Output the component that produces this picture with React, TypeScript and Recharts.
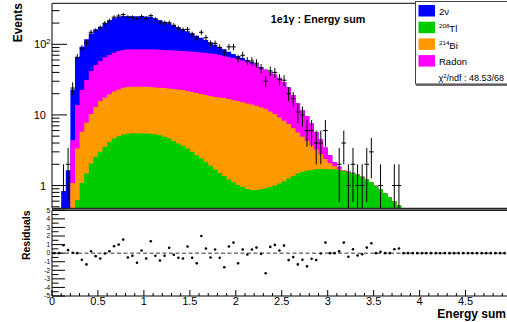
import React from 'react';
import {
  ComposedChart,
  Area,
  Scatter,
  ErrorBar,
  XAxis,
  YAxis,
  ReferenceArea,
  ReferenceLine,
} from 'recharts';

const FONT = '"Liberation Sans", Arial, Helvetica, sans-serif';

// 100 bins of 0.05 from 0 to 5
const BIN_WIDTH = 0.05;
const X_MAX = 5;

// stacked MC components, per bin
const twoNu = [
  0, 0, 0.84, 1.65, 18.6, 52.9, 70, 86.8, 101, 112,
  120, 133, 145, 158, 166, 169, 166, 165, 164, 163,
  162, 161, 150, 137, 126, 116, 104, 93.2, 82.6, 73.4,
  64.5, 54.2, 47.5, 39.7, 32.9, 25.9, 21.1, 16.8, 12.5, 8.9,
  6.8, 5, 3.6, 2.5, 1.7, 1.1, 0.7, 0.45, 0.3, 0.2,
  0.12, 0.07, 0.04, 0, 0, 0, 0, 0, 0, 0,
  0, 0, 0, 0, 0, 0, 0, 0, 0, 0,
  0, 0, 0, 0, 0, 0, 0, 0, 0, 0,
  0, 0, 0, 0, 0, 0, 0, 0, 0, 0,
  0, 0, 0, 0, 0, 0, 0, 0, 0, 0,
];

const tl208 = [
  0, 0, 0, 0, 0, 0.62, 1.09, 1.48, 2.05, 2.55,
  3, 3.53, 4.15, 4.64, 5, 5.29, 5.42, 5.5, 5.52, 5.5,
  5.46, 5.42, 5.32, 5.17, 4.89, 4.64, 4.29, 3.94, 3.65, 3.35,
  3, 2.69, 2.41, 2.16, 1.9, 1.69, 1.51, 1.36, 1.22, 1.11,
  1.02, 0.955, 0.895, 0.866, 0.866, 0.887, 0.916, 0.955, 1, 1.07,
  1.15, 1.26, 1.36, 1.48, 1.56, 1.63, 1.66, 1.7, 1.72, 1.72,
  1.7, 1.69, 1.65, 1.61, 1.55, 1.49, 1.42, 1.33, 1.23, 1.11,
  0.99, 0.89, 0.78, 0.68, 0.6, 0.52, 0, 0, 0, 0,
  0, 0, 0, 0, 0, 0, 0, 0, 0, 0,
  0, 0, 0, 0, 0, 0, 0, 0, 0, 0,
];

const bi214 = [
  0, 0, 0, 0, 1.09, 2.73, 4.67, 6.25, 8.25, 10.45,
  12.7, 14.17, 15.55, 16.86, 18, 18.91, 19.38, 19.5, 19.48, 19.5,
  19.54, 19.38, 19.18, 19.03, 19.11, 18.96, 18.91, 18.96, 18.85, 18.45,
  18.1, 17.71, 17.29, 16.94, 16.6, 16.21, 16.09, 15.94, 15.58, 15.09,
  14.68, 14.15, 13.6, 13.13, 12.63, 12.01, 11.28, 10.25, 9.3, 8.15,
  7.1, 6.15, 5.14, 4.17, 3.33, 2.66, 2.07, 1.54, 1.06, 0.66,
  0.39, 0.19, 0.04, 0.02, 0.02, 0.02, 0.01, 0, 0, 0,
  0, 0, 0, 0, 0, 0, 0, 0, 0, 0,
  0, 0, 0, 0, 0, 0, 0, 0, 0, 0,
  0, 0, 0, 0, 0, 0, 0, 0, 0, 0,
];

const radon = [
  0, 0, 0, 0, 3.3, 10.45, 16.74, 23.47, 31.5, 37.8,
  42.3, 47.8, 50.8, 54.5, 57.4, 58.8, 59.7, 60, 60, 60,
  60, 60.2, 59.9, 59.6, 59, 58.9, 58.4, 57.9, 57.9, 57.8,
  57.4, 57.4, 56.8, 56.2, 55.6, 54.9, 52.9, 50.9, 49.2, 47.7,
  45.8, 43.9, 42, 39.5, 37, 33.7, 31, 29.3, 26.8, 24.1,
  20.95, 17.1, 12.6, 8.95, 6.81, 5.33, 3.84, 2.51, 1.71, 1.08,
  0.6, 0.28, 0.15, 0.03, 0.01, 0.01, 0.01, 0, 0, 0,
  0, 0, 0, 0, 0, 0, 0, 0, 0, 0,
  0, 0, 0, 0, 0, 0, 0, 0, 0, 0,
  0, 0, 0, 0, 0, 0, 0, 0, 0, 0,
];

// observed events per bin
const dataCounts = [
  0, 0, 1, 2, 24, 65, 88, 105, 148, 156,
  172, 199, 216, 242, 252, 263, 242, 242, 231, 248,
  234, 255, 226, 202, 202, 202, 186, 169, 160, 163,
  139, 122, 148, 124, 103, 103, 90, 76, 92, 92,
  63, 70, 58, 58, 54, 46, 30, 42, 40, 32,
  31, 20, 17, 11, 10, 6, 6, 4, 4, 6,
  0, 0, 2, 4, 1, 2, 1, 1, 2, 3,
  0, 1, 0, 0, 1, 1, 0, 0, 0, 0,
  0, 0, 0, 0, 0, 0, 0, 0, 0, 0,
  0, 0, 0, 0, 0, 0, 0, 0, 0, 0,
];

const residuals = [
  0, 0, 0.92, 0.35, 0.04, 0, -0.77, -1.31, 0.23, -0.35,
  -0.62, -0.04, 0.23, 0.81, 1.0, 1.58, -0.5, -0.31, -1.12, 0.31,
  -0.62, 1.38, -0.31, -0.85, -0.31, 0.62, -0.19, -0.54, -0.62, 0.77,
  -0.54, -1.19, 2.0, 0.54, -0.5, 0.42, -0.54, -1.65, 0.77, 1.23,
  -1.19, 0.42, -0.15, 0.42, 0.65, -0.08, -2.35, 0.73, 0.96, 0.31,
  0.88, -0.81, -0.46, -1.31, -0.77, -1.54, -0.65, -0.81, -0.04, 1.23,
  0, 0, 0.23, 1.23, -0.42, 0.46, -0.27, -0.12, 0.65, 1.15,
  0, 0.15, 0, 0, 0.46, 0.54, 0, 0, 0, 0,
  0, 0, 0, 0, 0, 0, 0, 0, 0, 0,
  0, 0, 0, 0, 0, 0, 0, 0, 0, 0,
];

const legendItems = [
  { sup: '', label: '2ν', color: '#0000ff' },
  { sup: '208', label: 'Tl', color: '#00cc00' },
  { sup: '214', label: 'Bi', color: '#ff9900' },
  { sup: '', label: 'Radon', color: '#ff00ff' },
];
const chi2Text = '48.53/68';

const LOG_TICKS = [
  0.5, 0.6, 0.7, 0.8, 0.9, 1, 2, 3, 4, 5, 6, 7, 8, 9,
  10, 20, 30, 40, 50, 60, 70, 80, 90, 100, 200, 300,
];
const RES_TICKS = [-5, -4.5, -4, -3.5, -3, -2.5, -2, -1.5, -1, -0.5, 0, 0.5, 1, 1.5, 2, 2.5, 3, 3.5, 4, 4.5, 5];
const X_TICKS = Array.from({ length: 51 }, (_, i) => i / 10);

const Y_MIN = 0.476;
const Y_MAX = 381;
const FLOOR = 1e-3;

const stackRows = twoNu.map((_, i) => {
  const g = tl208[i];
  const o = g + bi214[i];
  const m = o + radon[i];
  const t = m + twoNu[i];
  return { x: +(i * BIN_WIDTH).toFixed(2), g: g || FLOOR, o: o || FLOOR, m: m || FLOOR, t: t || FLOOR };
});
stackRows.push({ ...stackRows[stackRows.length - 1], x: X_MAX });

const dataPoints = dataCounts
  .map((n, i) => ({ n, i }))
  .filter((d) => d.n > 0)
  .map(({ n, i }) => ({
    x: (i + 0.5) * BIN_WIDTH,
    y: n,
    ey: [n - Math.max(n - Math.sqrt(n), Y_MIN), Math.sqrt(n)],
    ex: BIN_WIDTH / 2,
  }));

const residualPoints = residuals.map((r, i) => ({ x: (i + 0.5) * BIN_WIDTH, y: r }));

const isMultiple = (v: number, step: number) => Math.abs(v / step - Math.round(v / step)) < 1e-6;

const InnerXTick = ({ x, y, payload }: any) => {
  const len = isMultiple(payload.value, 0.5) ? 6 : 3;
  return <line x1={x} x2={x} y1={y} y2={y - len} stroke="#000" />;
};

const ResXTick = ({ x, y, payload }: any) => {
  const v = payload.value;
  const major = isMultiple(v, 0.5);
  return (
    <g>
      <line x1={x} x2={x} y1={y} y2={y - (major ? 6 : 3)} stroke="#000" />
      {major && v < X_MAX && (
        <text x={x} y={y + 9} textAnchor="middle" fontSize={11} fontFamily={FONT} fill="#000">
          {String(v)}
        </text>
      )}
    </g>
  );
};

const LogTick = ({ x, y, payload }: any) => {
  const v = payload.value;
  const dec = Math.round(Math.log10(v));
  const major = Math.abs(Math.log10(v) - dec) < 1e-6;
  return (
    <g>
      <line x1={x} x2={x + (major ? 15 : 7.5)} y1={y} y2={y} stroke="#000" />
      {major && dec < 2 && (
        <text x={x - 6} y={y + 4} textAnchor="end" fontSize={11} fontFamily={FONT} fill="#000">
          {String(v)}
        </text>
      )}
      {major && dec >= 2 && (
        <text x={x - 1.5} y={y + 4} textAnchor="end" fontSize={11} fontFamily={FONT} fill="#000">
          10
          <tspan dy={-4.5} fontSize={7.5}>
            {dec}
          </tspan>
        </text>
      )}
    </g>
  );
};

const ResYTick = ({ x, y, payload }: any) => {
  const v = payload.value;
  const major = Number.isInteger(v);
  return (
    <g>
      <line x1={x} x2={x + (major ? 13 : 6.5)} y1={y} y2={y} stroke="#000" />
      {major && (
        <text x={x - 2} y={y + 2.3} textAnchor="end" fontSize={6.5} fontFamily={FONT} fill="#000">
          {String(v)}
        </text>
      )}
    </g>
  );
};

const noShape = () => <g />;
const dotShape = (p: any) => <circle cx={p.cx} cy={p.cy} r={1.3} fill="#000" />;

export default function App() {
  return (
    <div
      style={{
        position: 'fixed',
        left: 0,
        top: 0,
        width: 507,
        height: 322,
        overflow: 'hidden',
        background: '#fff',
        fontFamily: FONT,
      }}
    >
      <div style={{ position: 'absolute', left: 0, top: 0 }}>
        <ComposedChart width={520} height={209} data={stackRows} margin={{ top: 3.3, right: 8.5, bottom: 0.7, left: 0 }}>
          <XAxis
            dataKey="x"
            type="number"
            domain={[0, X_MAX]}
            allowDataOverflow
            ticks={X_TICKS}
            interval={0}
            height={0}
            tickSize={0}
            tickMargin={0}
            axisLine={false}
            tickLine={false}
            tick={<InnerXTick />}
          />
          <YAxis
            dataKey="y"
            type="number"
            scale="log"
            domain={[Y_MIN, Y_MAX]}
            allowDataOverflow
            ticks={LOG_TICKS}
            interval={0}
            width={52}
            tickSize={0}
            tickMargin={0}
            axisLine={false}
            tickLine={false}
            tick={<LogTick />}
          />
          <Area type="stepAfter" dataKey="t" baseValue={Y_MIN} fill="#0000ff" fillOpacity={1} stroke="none" dot={false} activeDot={false} isAnimationActive={false} />
          <Area type="stepAfter" dataKey="m" baseValue={Y_MIN} fill="#ff00ff" fillOpacity={1} stroke="none" dot={false} activeDot={false} isAnimationActive={false} />
          <Area type="stepAfter" dataKey="o" baseValue={Y_MIN} fill="#ff9900" fillOpacity={1} stroke="none" dot={false} activeDot={false} isAnimationActive={false} />
          <Area type="stepAfter" dataKey="g" baseValue={Y_MIN} fill="#00cc00" fillOpacity={1} stroke="none" dot={false} activeDot={false} isAnimationActive={false} />
          <Scatter data={dataPoints} dataKey="y" shape={noShape} isAnimationActive={false}>
            <ErrorBar dataKey="ey" direction="y" width={0} stroke="#000" strokeWidth={1} />
            <ErrorBar dataKey="ex" direction="x" width={0} stroke="#000" strokeWidth={1} />
          </Scatter>
          <ReferenceArea x1={0} x2={X_MAX} y1={Y_MIN} y2={Y_MAX} fill="none" stroke="#000" strokeWidth={1} />
        </ComposedChart>
      </div>

      <div style={{ position: 'absolute', left: 52, top: 209, width: 460, height: 2, background: '#888' }} />

      <div style={{ position: 'absolute', left: 0, top: 199 }}>
        <ComposedChart width={520} height={123} margin={{ top: 11.3, right: 8.5, bottom: 0, left: 0 }}>
          <XAxis
            dataKey="x"
            type="number"
            domain={[0, X_MAX]}
            allowDataOverflow
            ticks={X_TICKS}
            interval={0}
            height={26}
            tickSize={0}
            tickMargin={0}
            axisLine={false}
            tickLine={false}
            tick={<ResXTick />}
          />
          <YAxis
            dataKey="y"
            type="number"
            domain={[-5, 5]}
            allowDataOverflow
            ticks={RES_TICKS}
            interval={0}
            width={52}
            tickSize={0}
            tickMargin={0}
            axisLine={false}
            tickLine={false}
            tick={<ResYTick />}
          />
          <ReferenceLine y={0} stroke="#333" strokeDasharray="4 2.5" />
          <Scatter data={residualPoints} dataKey="y" shape={dotShape} isAnimationActive={false} />
          <ReferenceArea x1={0} x2={X_MAX} y1={-5} y2={5} fill="none" stroke="#000" strokeWidth={1} />
        </ComposedChart>
      </div>

      <svg width={507} height={322} style={{ position: 'absolute', left: 0, top: 0, pointerEvents: 'none' }}>
        <text x={318} y={22.5} textAnchor="middle" fontSize={10.7} fontWeight="bold" fontFamily={FONT}>
          1e1γ : Energy sum
        </text>
        <text transform="translate(21.5,3) rotate(-90)" textAnchor="end" fontSize={12} fontWeight="bold" fontFamily={FONT}>
          Events
        </text>
        <text transform="translate(30,210.5) rotate(-90)" textAnchor="end" fontSize={10.5} fontWeight="bold" fontFamily={FONT}>
          Residuals
        </text>
        <text x={506} y={317.5} textAnchor="end" fontSize={12} fontWeight="bold" fontFamily={FONT}>
          Energy sum
        </text>

        <rect x={415.5} y={1.5} width={110} height={82.5} fill="#fff" stroke="#444" strokeWidth={1} />
        <line x1={416} x2={507} y1={85} y2={85} stroke="#444" strokeWidth={1.5} />
        {legendItems.map((item, i) => (
          <g key={item.label}>
            <rect x={418.5} y={5 + i * 16.7} width={16.5} height={11.5} fill={item.color} />
            <text x={439} y={15.2 + i * 16.7} fontSize={9.5} fontFamily={FONT}>
              {item.sup && (
                <tspan fontSize={6.2} dy={-3.5}>
                  {item.sup}
                </tspan>
              )}
              <tspan dy={item.sup ? 3.5 : 0}>{item.label}</tspan>
            </text>
          </g>
        ))}
        <text x={438.5} y={81} fontSize={9} fontFamily={FONT}>
          χ<tspan fontSize={6} dy={-3.5}>2</tspan>
          <tspan dy={3.5}>/ndf : {chi2Text}</tspan>
        </text>
      </svg>
    </div>
  );
}
